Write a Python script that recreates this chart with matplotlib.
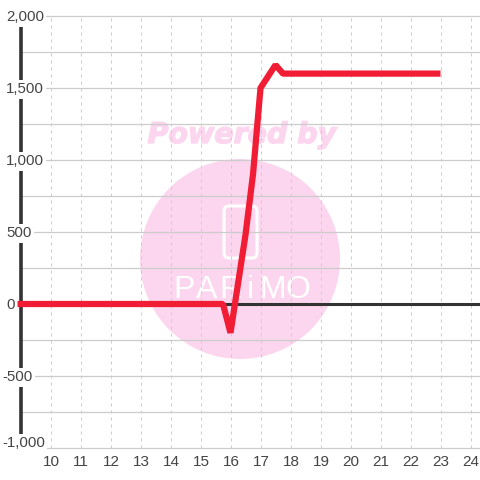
import matplotlib
matplotlib.use('Agg')
import matplotlib.pyplot as plt
import matplotlib.patheffects as pe
from matplotlib.patches import Circle, FancyBboxPatch
from matplotlib.transforms import IdentityTransform

x_values = [8.9, 15.75, 16, 16.5, 16.75, 17, 17.5, 17.75, 23]
y_values = [0, 0, -200, 480, 900, 1500, 1660, 1600, 1600]
x_ticks = list(range(10, 25))
y_major = [-1000, -500, 0, 500, 1000, 1500, 2000]
y_minor = [-750, -250, 250, 750, 1250, 1750]

plt.rcParams['font.family'] = ['Liberation Sans', 'DejaVu Sans']

fig = plt.figure(figsize=(4.8, 4.8), dpi=100, facecolor='white')
ax = fig.add_axes([0, 0, 1, 1])
ax.set_xlim(10 - 50.5 / 30, 10 + 429.5 / 30)
ax.set_ylim(-1000 - 32 / 0.144, 2000 + 16 / 0.144)
ax.axis('off')

# watermark, in pixels from the bottom left
px = IdentityTransform()
ax.add_patch(Circle((240, 221), 100, color='#fcd6ee', lw=0, transform=px, zorder=1))
ax.text(242, 345, 'Powered by', transform=px, color='#fcd6ee', fontsize=20.5,
        fontweight='bold', style='italic', family='DejaVu Sans', ha='center', va='center', zorder=1,
        path_effects=[pe.withStroke(linewidth=1, foreground='#fcd6ee')])
ax.add_patch(FancyBboxPatch((224, 222), 33, 52, boxstyle='round,pad=0,rounding_size=5', fc='none',
                            ec='white', lw=2.2, transform=px, zorder=1))
for letter, xp in zip('PARiMO', [184, 207, 231, 250, 273, 298]):
    ax.text(xp, 190, letter, transform=px, color='white', fontsize=23, ha='center', va='center',
            zorder=1)

for v in y_major + y_minor:
    ax.plot([9, 24.4], [v, v], color='#cccccc', lw=0.9, zorder=2)
for v in x_ticks:
    ax.plot([v, v], [-1000, 2000], color='#cccccc', lw=0.72, ls=(0, (3, 4)), zorder=2)

ax.plot([9, 9], [-1000, 2000], color='#333333', lw=2.6, solid_capstyle='butt', zorder=3)
ax.plot([9, 24.4], [0, 0], color='#333333', lw=2.2, solid_capstyle='butt', zorder=3)

for v in y_major:
    # the -1,000 label sits a little above its grid line
    y_label = v + 35 if v == -1000 else v - 10
    x_label = 8.39 if v < 0 else 8.52
    ax.text(x_label, y_label, f'{v:,}', color='#444444', fontsize=10.8, ha='left', va='center', zorder=3.5,
            bbox=dict(fc='white', ec='none', pad=1.5))
for v in x_ticks:
    ax.text(v + 0.02, -1000 - 14 / 0.144, str(v), color='#444444', fontsize=11, ha='center', va='center', zorder=5)

ax.plot(x_values, y_values, color='#f11d35', lw=4.5, solid_joinstyle='bevel',
        solid_capstyle='butt', zorder=4)

fig.savefig('out.png', dpi=100)
